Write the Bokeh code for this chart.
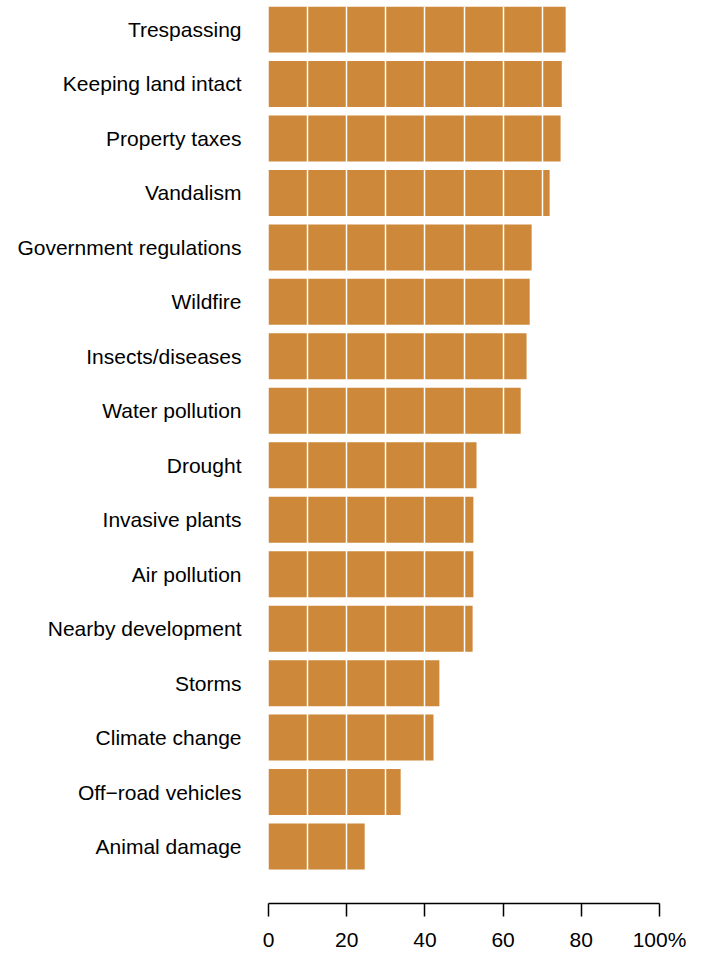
from bokeh.plotting import figure
from bokeh.models import Range1d, FixedTicker, ColumnDataSource
from bokeh.embed import file_html
from bokeh.resources import INLINE

categories = ["Trespassing", "Keeping land intact", "Property taxes", "Vandalism",
              "Government regulations", "Wildfire", "Insects/diseases", "Water pollution",
              "Drought", "Invasive plants", "Air pollution", "Nearby development",
              "Storms", "Climate change", "Off\u2212road vehicles", "Animal damage"]
values = [76.0, 75.0, 74.7, 71.9, 67.3, 66.8, 66.0, 64.5,
          53.2, 52.4, 52.4, 52.2, 43.7, 42.2, 33.8, 24.6]
x_ticks = [0, 20, 40, 60, 80, 100]
x_tick_labels = ["0", "20", "40", "60", "80", "100%"]
grid_ticks = [10, 20, 30, 40, 50, 60, 70, 80, 90]

n = len(categories)
ypos = [n - 1 - i for i in range(n)]
bar_h = 0.8445

src = ColumnDataSource(dict(y=ypos, v=values, cat=categories))

p = figure(width=704, height=953, output_backend="svg", toolbar_location=None,
           x_range=Range1d(0, 100), y_range=Range1d(-1.0456, n - 1 + bar_h / 2),
           min_border_left=268, min_border_right=45, min_border_top=6, min_border_bottom=50)
p.outline_line_color = None
p.background_fill_color = "white"

p.hbar(y="y", left=0, right="v", height=bar_h, source=src,
       fill_color="#cd8839", line_color=None)

# x axis
xa = p.xaxis[0]
xa.ticker = FixedTicker(ticks=x_ticks)
xa.major_label_overrides = {t: l for t, l in zip(x_ticks, x_tick_labels)}
xa.axis_line_width = 1.5
xa.axis_line_color = "black"
xa.major_tick_line_width = 1.5
xa.major_tick_line_color = "black"
xa.major_tick_out = 13
xa.major_tick_in = 0
xa.minor_tick_line_color = None
xa.major_label_standoff = 11
xa.major_label_text_font = "Liberation Sans"
xa.major_label_text_font_size = "21px"
xa.major_label_text_color = "black"

# y axis
ya = p.yaxis[0]
ya.ticker = FixedTicker(ticks=ypos)
ya.major_label_overrides = {y: c for y, c in zip(ypos, categories)}
ya.axis_line_color = None
ya.major_tick_line_color = None
ya.minor_tick_line_color = None
ya.major_tick_out = 0
ya.major_tick_in = 0
ya.major_label_standoff = 27
ya.major_label_text_font = "Liberation Sans"
ya.major_label_text_font_size = "21px"
ya.major_label_text_color = "black"

# grid: white vertical lines drawn over the bars (glyph level, after the bars)
p.ygrid.grid_line_color = None
p.xgrid.ticker = FixedTicker(ticks=grid_ticks)
p.xgrid.grid_line_color = "white"
p.xgrid.grid_line_width = 1.5
p.xgrid.level = "glyph"

open("out.html", "w").write(file_html(p, INLINE))
